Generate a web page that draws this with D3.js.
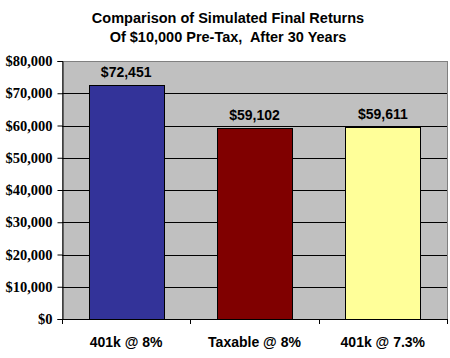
<!DOCTYPE html>
<html>
<head>
<meta charset="utf-8">
<script src="https://cdn.jsdelivr.net/npm/d3@7"></script>
<style>
  html, body { margin: 0; padding: 0; background: #fff; }
  svg { display: block; }
</style>
</head>
<body>
<svg id="chart" width="450" height="358"></svg>
<script>
const categories = ["401k @ 8%", "Taxable @ 8%", "401k @ 7.3%"];
const values = [72451, 59102, 59611];
const barColors = ["#333399", "#800000", "#FFFF99"];
const yTicks = [0, 10000, 20000, 30000, 40000, 50000, 60000, 70000, 80000];
const titleLines = ["Comparison of Simulated Final Returns", "Of $10,000 Pre-Tax,  After 30 Years"];

const svg = d3.select("#chart");
const plot = { left: 62, top: 61, right: 447, bottom: 319 };

const x = d3.scaleBand()
  .domain(categories)
  .range([plot.left, plot.right])
  .paddingInner(0.415)
  .paddingOuter(0.2075);

const y = d3.scaleLinear().domain([0, 80000]).range([plot.bottom, plot.top]);

const fmt = v => "$" + d3.format(",")(v);

// plot background
svg.append("rect")
  .attr("x", plot.left).attr("y", plot.top)
  .attr("width", plot.right - plot.left).attr("height", plot.bottom - plot.top)
  .attr("fill", "#C0C0C0").attr("stroke", "#808080").attr("stroke-width", 1)
  .attr("shape-rendering", "crispEdges");

// gridlines
svg.append("g").selectAll("line")
  .data(yTicks.filter(t => t > 0 && t < 80000))
  .join("line")
  .attr("x1", plot.left).attr("x2", plot.right)
  .attr("y1", d => Math.round(y(d)) + 0.5).attr("y2", d => Math.round(y(d)) + 0.5)
  .attr("stroke", "#000").attr("stroke-width", 1);

// bars
svg.append("g").selectAll("rect")
  .data(values)
  .join("rect")
  .attr("x", (d, i) => Math.round(x(categories[i])) + 0.5)
  .attr("y", d => Math.round(y(d)) + 0.5)
  .attr("width", Math.round(x.bandwidth()))
  .attr("height", d => Math.round(y(0)) - Math.round(y(d)))
  .attr("fill", (d, i) => barColors[i])
  .attr("stroke", "#000").attr("stroke-width", 1);

// value labels
svg.append("g").selectAll("text")
  .data(values)
  .join("text")
  .attr("x", (d, i) => x(categories[i]) + x.bandwidth() / 2)
  .attr("y", d => y(d) - 8)
  .attr("text-anchor", "middle")
  .attr("font-family", "Liberation Sans, Arial, sans-serif")
  .attr("font-weight", "bold")
  .attr("font-size", "14px")
  .attr("fill", "#000")
  .text(fmt);

// y axis
const yAxis = d3.axisLeft(y).tickValues(yTicks).tickSize(5).tickPadding(5).tickFormat(fmt);
const gy = svg.append("g").attr("transform", `translate(${plot.left + 0.5},0)`).call(yAxis);
gy.select(".domain").attr("stroke", "#000");
gy.selectAll(".tick line").attr("stroke", "#000");
gy.selectAll(".tick text")
  .attr("font-family", "Liberation Serif, Times New Roman, serif")
  .attr("font-weight", "bold")
  .attr("font-size", "14.5px")
  .attr("fill", "#000");

// x axis line + ticks at category boundaries
const boundaries = [plot.left].concat(categories.map((c, i) => plot.left + (i + 1) * (plot.right - plot.left) / categories.length));
svg.append("line")
  .attr("x1", plot.left).attr("x2", plot.right + 1)
  .attr("y1", plot.bottom + 0.5).attr("y2", plot.bottom + 0.5)
  .attr("stroke", "#000");
svg.append("g").selectAll("line")
  .data(boundaries)
  .join("line")
  .attr("x1", d => Math.round(d) + 0.5).attr("x2", d => Math.round(d) + 0.5)
  .attr("y1", plot.bottom).attr("y2", plot.bottom + 5)
  .attr("stroke", "#000");

// category labels
svg.append("g").selectAll("text")
  .data(categories)
  .join("text")
  .attr("x", d => x(d) + x.bandwidth() / 2)
  .attr("y", 347)
  .attr("text-anchor", "middle")
  .attr("font-family", "Liberation Sans, Arial, sans-serif")
  .attr("font-weight", "bold")
  .attr("font-size", "14px")
  .attr("fill", "#000")
  .text(d => d);

// title
svg.append("g").selectAll("text")
  .data(titleLines)
  .join("text")
  .attr("x", 228)
  .attr("y", (d, i) => 23 + i * 19)
  .attr("text-anchor", "middle")
  .attr("font-family", "Liberation Sans, Arial, sans-serif")
  .attr("font-weight", "bold")
  .attr("font-size", "14.5px")
  .attr("fill", "#000")
  .attr("xml:space", "preserve")
  .style("white-space", "pre")
  .text(d => d);
</script>
</body>
</html>
